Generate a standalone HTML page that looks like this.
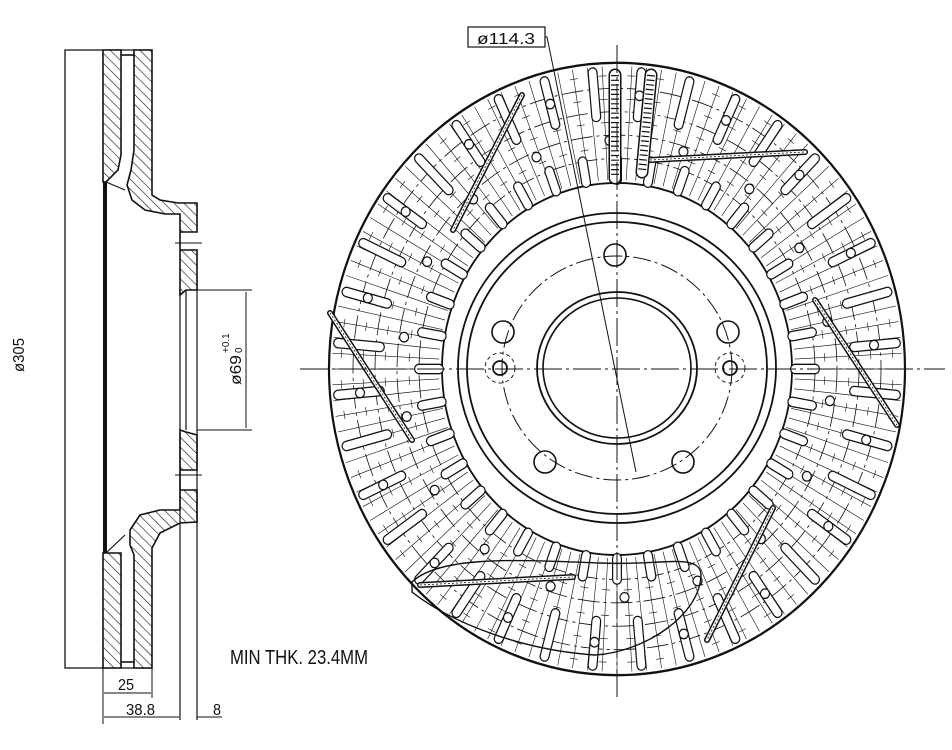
<!DOCTYPE html>
<html><head><meta charset="utf-8"><style>
html,body{margin:0;padding:0;background:#fff;}
svg{display:block;}
text{font-family:"Liberation Sans",sans-serif;fill:#111;}
</style></head><body>
<svg id="s" width="952" height="750" viewBox="0 0 952 750" xmlns="http://www.w3.org/2000/svg">
<defs>
<pattern id="h" width="7" height="7" patternUnits="userSpaceOnUse" patternTransform="rotate(-45)">
<rect width="7" height="7" fill="#fff"/><line x1="0" y1="0" x2="0" y2="7" stroke="#222" stroke-width="1.3"/>
</pattern>
</defs>
<g fill="none" stroke="#111" stroke-width="1.6">
<polyline points="152,50 65,50 65,668 152,668" stroke-width="1.3"/>
<path d="M103,50 H121 V155 L118,170 L106,182 L103,182 Z" fill="url(#h)"/>
<path d="M134,50 H152 V195 L160,200 L178,203 L197,203 V232 H180 V250 H197 V290 L186,290 L180,295 V214 L165,214 L145,210 L132,200 L127,185 L131,170 L134,150 Z" fill="url(#h)"/>
<path d="M103,553 H121 V668 H103 Z" fill="url(#h)"/>
<path d="M134,668 H152 V548 L160,533 L180,523 L197,522 V490 H180 V470 H197 V435 L186,432 L180,430 V510 L160,510 L140,515 L130,530 L130,545 L134,555 Z" fill="url(#h)"/>
<line x1="121" y1="55" x2="134" y2="55"/><line x1="121" y1="662" x2="134" y2="662"/>
<line x1="105" y1="182" x2="105" y2="553" stroke-width="4"/>
<line x1="180" y1="290" x2="180" y2="720" stroke-width="1.2"/>
<line x1="186" y1="290" x2="186" y2="430" stroke-width="1.2"/>
<line x1="197" y1="290" x2="197" y2="720" stroke-width="1.2"/>
<line x1="106" y1="182" x2="125" y2="190" stroke-width="1.2"/>
<line x1="106" y1="553" x2="125" y2="535" stroke-width="1.2"/>
<line x1="175" y1="243" x2="202" y2="243" stroke-width="1"/>
<line x1="175" y1="475" x2="202" y2="475" stroke-width="1"/>
<line x1="197" y1="290" x2="252" y2="290" stroke-width="1"/>
<line x1="197" y1="430" x2="252" y2="430" stroke-width="1"/>
<line x1="246" y1="292" x2="246" y2="428" stroke-width="1"/>
<line x1="103" y1="668" x2="103" y2="724" stroke-width="1"/>
<line x1="152" y1="668" x2="152" y2="698" stroke-width="1"/>
<line x1="104" y1="693" x2="151" y2="693" stroke-width="1"/>
<line x1="104" y1="717" x2="179" y2="717" stroke-width="1"/>
<line x1="197" y1="717" x2="222" y2="717" stroke-width="1"/>
</g>
<text x="0" y="0" font-size="16" textLength="34" lengthAdjust="spacingAndGlyphs" transform="translate(24,372) rotate(-90)">ø305</text>
<text x="0" y="0" font-size="16" textLength="30" lengthAdjust="spacingAndGlyphs" transform="translate(241,385) rotate(-90)">ø69</text>
<text x="0" y="0" font-size="10" transform="translate(229,353) rotate(-90)">+0.1</text>
<text x="0" y="0" font-size="10" transform="translate(242,353) rotate(-90)">0</text>
<text x="118" y="690" font-size="16" textLength="16" lengthAdjust="spacingAndGlyphs">25</text>
<text x="126" y="715" font-size="16" textLength="29" lengthAdjust="spacingAndGlyphs">38.8</text>
<text x="213" y="715" font-size="16" textLength="8" lengthAdjust="spacingAndGlyphs">8</text>
<text x="230" y="664" font-size="20" textLength="138" lengthAdjust="spacingAndGlyphs">MIN THK. 23.4MM</text>
<rect x="468" y="27" width="77" height="20" fill="none" stroke="#111" stroke-width="1.2"/>
<text x="477" y="44" font-size="16" textLength="58" lengthAdjust="spacingAndGlyphs">ø114.3</text>
<polyline points="545,37 547,37 636,472" fill="none" stroke="#111" stroke-width="1"/>
<g id="disc" transform="translate(617,369) scale(1,1.063)" fill="none" stroke="#111"></g>
<g id="abs" fill="none" stroke="#111"></g>
<g stroke="#111" stroke-width="1" stroke-dasharray="28,4,3,4" fill="none">
<line x1="300" y1="369" x2="945" y2="369"/>
<line x1="617" y1="45" x2="617" y2="700"/>
</g>
</svg>
<script>
var NS='http://www.w3.org/2000/svg',g=document.getElementById('disc'),ab=document.getElementById('abs');
function el(t,a,p){var e=document.createElementNS(NS,t);for(var k in a)e.setAttribute(k,a[k]);(p||g).appendChild(e);return e;}
function c(r,w,d){var a={cx:0,cy:0,r:r,'stroke-width':w};if(d)a['stroke-dasharray']=d;el('circle',a);}
var P=Math.PI/180;
for(var i=0;i<120;i++){var a=i*3*P;el('line',{x1:178*Math.cos(a),y1:178*Math.sin(a),x2:285*Math.cos(a),y2:285*Math.sin(a),'stroke-width':0.6});}
[198,220,242,264].forEach(function(r){c(r,0.8,'22,4,3,4');});
c(288,2.2);c(175,1.8);
for(var i=0;i<60;i++){var a=(i*6+3)*P;[208,232,254,276].forEach(function(r){var dx=-Math.sin(a)*4,dy=Math.cos(a)*4;el('line',{x1:r*Math.cos(a)-dx,y1:r*Math.sin(a)-dy,x2:r*Math.cos(a)+dx,y2:r*Math.sin(a)+dy,'stroke-width':0.6});});}
function slot(a,r1,r2,w){var x1=r1*Math.cos(a),y1=r1*Math.sin(a),x2=r2*Math.cos(a),y2=r2*Math.sin(a);
el('line',{x1:x1,y1:y1,x2:x2,y2:y2,'stroke-width':w,'stroke-linecap':'round'});
el('line',{x1:x1,y1:y1,x2:x2,y2:y2,'stroke-width':w-2.4,stroke:'#fff','stroke-linecap':'round'});}
for(var i=0;i<36;i++){slot(i*10*P,178,198,10);}
for(var i=0;i<36;i++){slot((i*10+5)*P,238,280,10);}
for(var i=0;i<18;i++){[[215,i*20+8],[258,i*20+15]].forEach(function(p){var a=p[1]*P;el('circle',{cx:p[0]*Math.cos(a),cy:p[0]*Math.sin(a),r:4.5,'stroke-width':1.2,fill:'#fff'});});}
// hub (absolute)
function ell(rx,ry,w,d){var a={cx:617,cy:368,rx:rx,ry:ry,'stroke-width':w,fill:'none'};if(d)a['stroke-dasharray']=d;el('ellipse',a,ab);}
ell(159,155,1.8);ell(150,146,1.8);ell(80,76,1.8);ell(74,70,1.6);ell(115,112,1,'18,4,3,4');
[[615,255],[503,332],[728,332],[545,462],[683,462]].forEach(function(p){el('circle',{cx:p[0],cy:p[1],r:11,'stroke-width':1.6},ab);});
[500,730].forEach(function(x){el('circle',{cx:x,cy:368,r:15,'stroke-width':0.9,'stroke-dasharray':'4,3'},ab);el('circle',{cx:x,cy:368,r:7,'stroke-width':1.8},ab);});
// bars (absolute)
[[522,95,453,230],[330,313,412,440],[815,300,897,425],[773,508,707,640],[420,585,573,577],[650,160,805,152]].forEach(function(b){
el('line',{x1:b[0],y1:b[1],x2:b[2],y2:b[3],'stroke-width':6,'stroke-linecap':'round'},ab);
el('line',{x1:b[0],y1:b[1],x2:b[2],y2:b[3],'stroke-width':3,stroke:'#fff','stroke-linecap':'round'},ab);
el('line',{x1:b[0],y1:b[1],x2:b[2],y2:b[3],'stroke-width':0.8,'stroke-dasharray':'2,2'},ab);});
[[615,75,615,178],[651,75,642,172]].forEach(function(b){
el('line',{x1:b[0],y1:b[1],x2:b[2],y2:b[3],'stroke-width':13,'stroke-linecap':'round'},ab);
el('line',{x1:b[0],y1:b[1],x2:b[2],y2:b[3],'stroke-width':10,stroke:'#fff','stroke-linecap':'round'},ab);
el('line',{x1:b[0],y1:b[1],x2:b[2],y2:b[3],'stroke-width':8,'stroke-dasharray':'1.2,3.5'},ab);});
el('path',{d:'M412,582 C440,555 520,560 600,563 C660,566 700,552 701,575 C700,615 645,652 595,655 C520,650 450,622 412,592 Z','stroke-width':1.4,fill:'none'},ab);
</script>
</body></html>
